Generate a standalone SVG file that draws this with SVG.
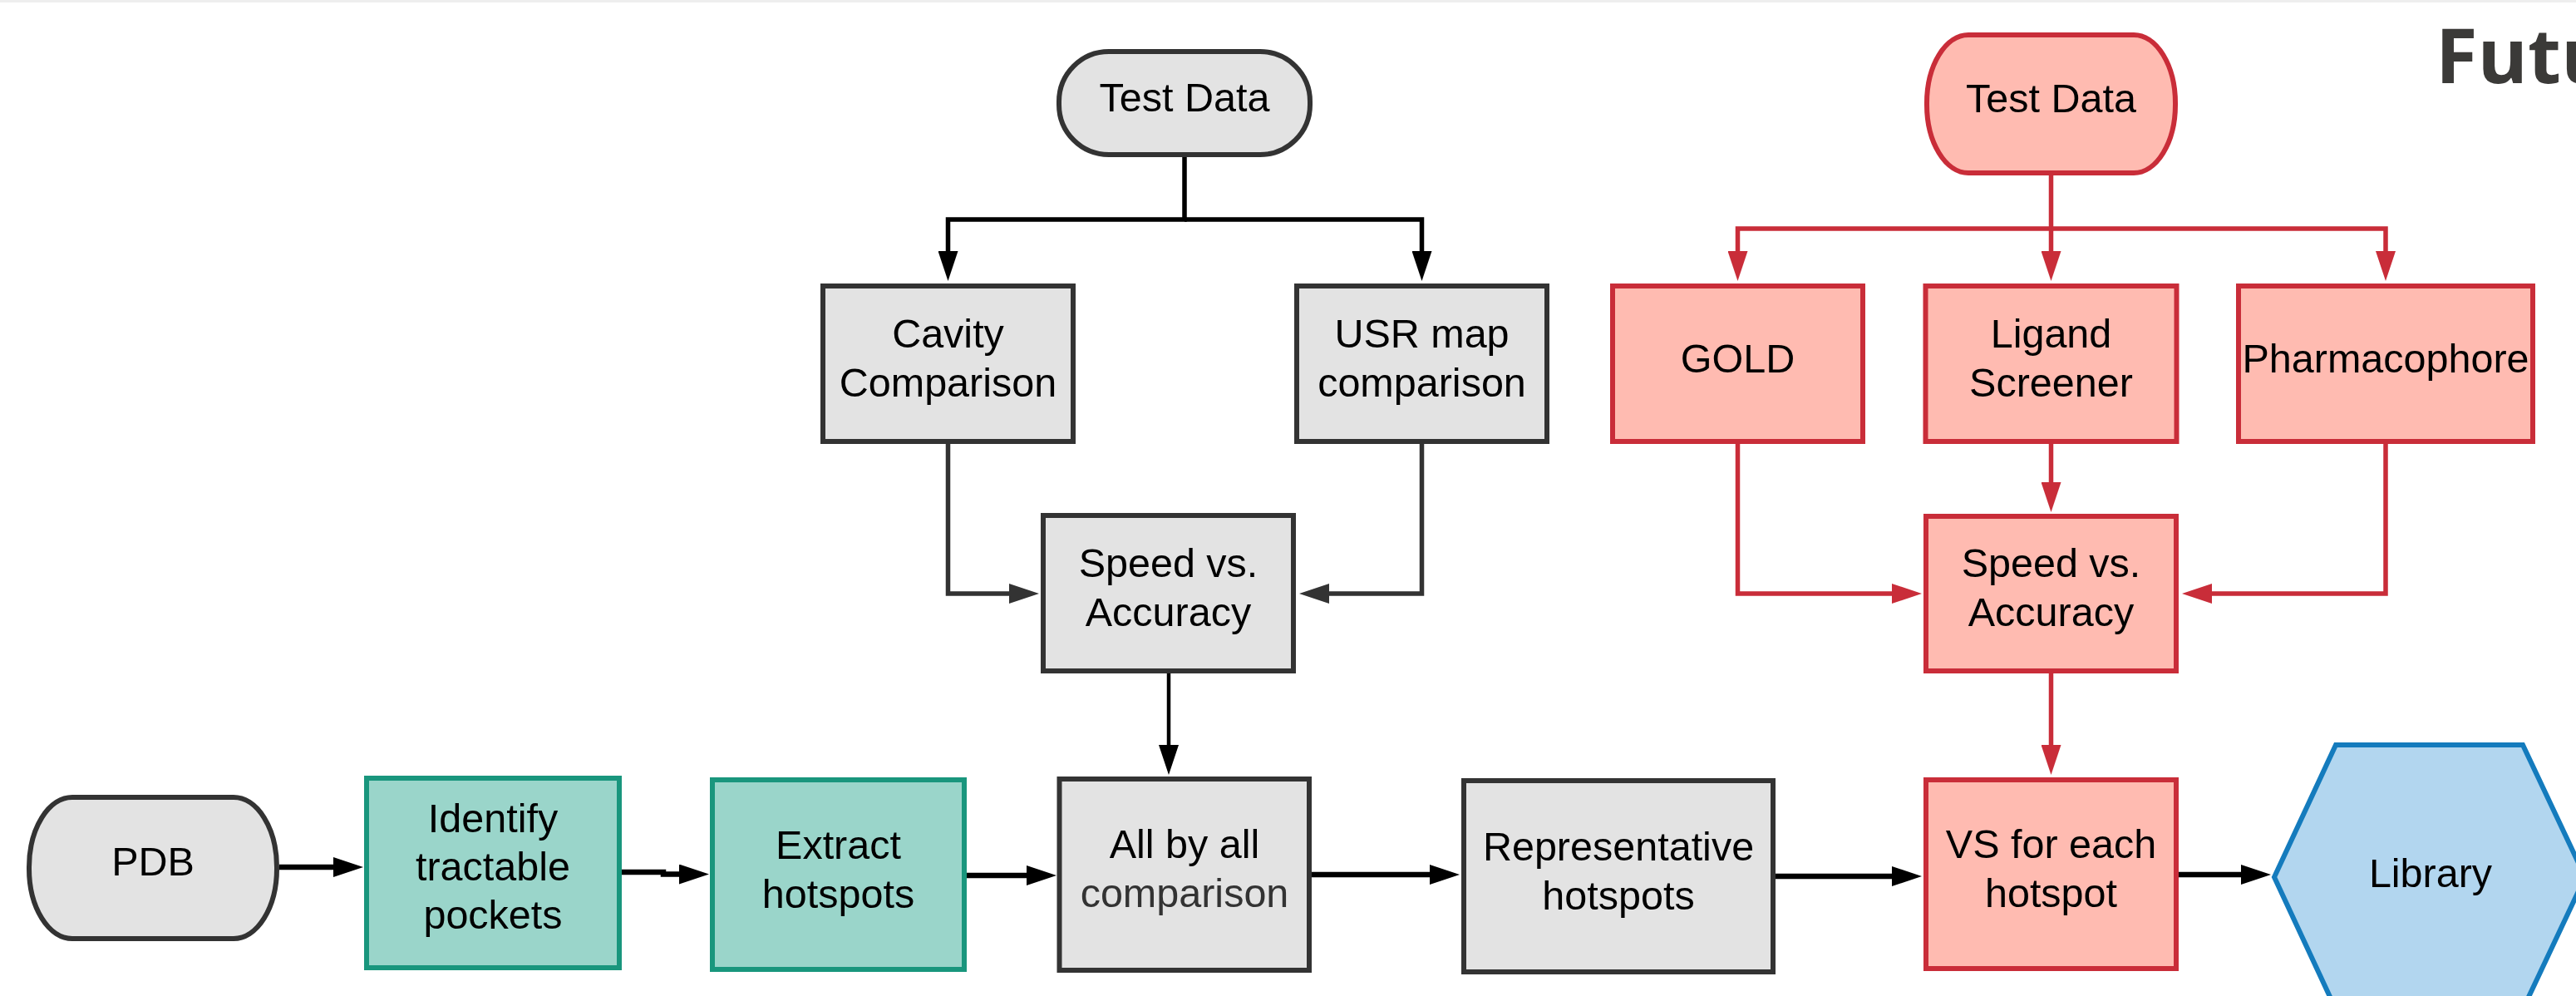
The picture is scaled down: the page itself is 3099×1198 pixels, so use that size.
<svg xmlns="http://www.w3.org/2000/svg" width="3099" height="1198" viewBox="0 0 3099 1198">
<style>
.t{font-family:"Liberation Sans",Arial,sans-serif;font-size:48.5px;fill:#000;text-anchor:middle}
.g{fill:#e3e3e3;stroke:#333333;stroke-width:6}
.tl{fill:#9ad5ca;stroke:#19967d;stroke-width:6}
.r{fill:#ffbbb1;stroke:#c92d39;stroke-width:6}
.b{fill:#b2d6ef;stroke:#147bbd;stroke-width:6}
.ck{fill:none;stroke:#000;stroke-width:5.5}
.cb{fill:none;stroke:#000;stroke-width:6.5}
.cg{fill:none;stroke:#333333;stroke-width:5.5}
.cr{fill:none;stroke:#c92d39;stroke-width:5.5}
</style>
<defs>
<marker id="ak" markerUnits="userSpaceOnUse" markerWidth="36" markerHeight="24" refX="1" refY="12" orient="auto"><path d="M0,0 L36,12 L0,24 z" fill="#000"/></marker>
<marker id="ag" markerUnits="userSpaceOnUse" markerWidth="36" markerHeight="24" refX="1" refY="12" orient="auto"><path d="M0,0 L36,12 L0,24 z" fill="#333333"/></marker>
<marker id="ar" markerUnits="userSpaceOnUse" markerWidth="36" markerHeight="24" refX="1" refY="12" orient="auto"><path d="M0,0 L36,12 L0,24 z" fill="#c92d39"/></marker>
</defs>
<rect x="0" y="0" width="3099" height="1198" fill="#fff"/>
<rect x="0" y="0" width="3099" height="3" fill="#eeeeee"/>
<text x="2930" y="100" font-family="'Open Sans','Noto Sans',sans-serif" font-weight="bold" font-size="92" fill="#3b3a38">Futu</text>

<g id="connectors">
<path class="ck" d="M1425,189 V264 H1140.5 V303" marker-end="url(#ak)"/>
<path class="ck" d="M1425,264 H1710.5 V303" marker-end="url(#ak)"/>
<path class="cg" d="M1140.5,534 V714 H1215" marker-end="url(#ag)"/>
<path class="cg" d="M1710.5,534 V714 H1598" marker-end="url(#ag)"/>
<path fill="none" stroke="#000" stroke-width="4.5" d="M1406,810 V897" marker-end="url(#ak)"/>
<path class="cr" d="M2467.5,211 V275 H2090.5 V303" marker-end="url(#ar)"/>
<path class="cr" d="M2467.5,275 V303" marker-end="url(#ar)"/>
<path class="cr" d="M2467.5,275 H2870 V303" marker-end="url(#ar)"/>
<path class="cr" d="M2467.5,534 V581" marker-end="url(#ar)"/>
<path class="cr" d="M2090.5,534 V714 H2277" marker-end="url(#ar)"/>
<path class="cr" d="M2870,534 V714 H2660" marker-end="url(#ar)"/>
<path class="cr" d="M2467.5,810 V897" marker-end="url(#ar)"/>
<path class="cb" d="M336,1043 H402" marker-end="url(#ak)"/>
<path class="cb" d="M748,1049 H798 V1051.5 H818" marker-end="url(#ak)"/>
<path class="cb" d="M1163,1053 H1236" marker-end="url(#ak)"/>
<path class="cb" d="M1578,1052 H1721" marker-end="url(#ak)"/>
<path class="cb" d="M2136,1054 H2277" marker-end="url(#ak)"/>
<path class="cb" d="M2621,1052 H2697" marker-end="url(#ak)"/>
</g>

<g id="testdata-gray"><rect class="g" x="1274" y="62" width="302" height="124" rx="60" ry="60"/><text class="t" x="1425" y="134">Test Data</text></g>
<g id="cavity"><rect class="g" x="990" y="344" width="301" height="187"/><text class="t" x="1140.5" y="418">Cavity</text><text class="t" x="1140.5" y="477">Comparison</text></g>
<g id="usr"><rect class="g" x="1560" y="344" width="301" height="187"/><text class="t" x="1710.5" y="418">USR map</text><text class="t" x="1710.5" y="477">comparison</text></g>
<g id="speed-gray"><rect class="g" x="1255" y="620" width="301" height="187"/><text class="t" x="1405.5" y="694">Speed vs.</text><text class="t" x="1405.5" y="753">Accuracy</text></g>

<g id="testdata-red"><rect class="r" x="2318" y="42" width="299" height="166" rx="50" ry="82"/><text class="t" x="2467.5" y="135">Test Data</text></g>
<g id="gold"><rect class="r" x="1940" y="344" width="301" height="187"/><text class="t" x="2090.5" y="447.5">GOLD</text></g>
<g id="ligand"><rect class="r" x="2316.5" y="344" width="302" height="187"/><text class="t" x="2467.5" y="418">Ligand</text><text class="t" x="2467.5" y="477">Screener</text></g>
<g id="pharmacophore"><rect class="r" x="2693" y="344" width="354" height="187"/><text class="t" x="2870" y="447.5">Pharmacophore</text></g>
<g id="speed-red"><rect class="r" x="2317" y="621" width="301" height="186"/><text class="t" x="2467.5" y="694">Speed vs.</text><text class="t" x="2467.5" y="753">Accuracy</text></g>

<g id="pdb"><rect class="g" x="35" y="959" width="298" height="170" rx="52" ry="84"/><text class="t" x="184" y="1053">PDB</text></g>
<g id="identify"><rect class="tl" x="441" y="936" width="304" height="228"/><text class="t" x="593" y="1001">Identify</text><text class="t" x="593" y="1059">tractable</text><text class="t" x="593" y="1117">pockets</text></g>
<g id="extract"><rect class="tl" x="857" y="938" width="303" height="228"/><text class="t" x="1008.5" y="1032.5">Extract</text><text class="t" x="1008.5" y="1091.5">hotspots</text></g>
<g id="allbyall"><rect class="g" x="1274.5" y="937" width="300.5" height="230"/><text class="t" x="1425" y="1032">All by all</text><text class="t" x="1425" y="1091" style="fill:#333">comparison</text></g>
<g id="representative"><rect class="g" x="1761" y="939" width="372" height="230"/><text class="t" x="1947" y="1034.5">Representative</text><text class="t" x="1947" y="1093.5">hotspots</text></g>
<g id="vs"><rect class="r" x="2317" y="938" width="301" height="227"/><text class="t" x="2467.5" y="1031.5">VS for each</text><text class="t" x="2467.5" y="1090.5">hotspot</text></g>
<g id="library"><polygon class="b" points="2736,1055 2810,896 3035,896 3110,1055 3035,1214 2810,1214"/><text class="t" x="2924" y="1067">Library</text></g>
</svg>
